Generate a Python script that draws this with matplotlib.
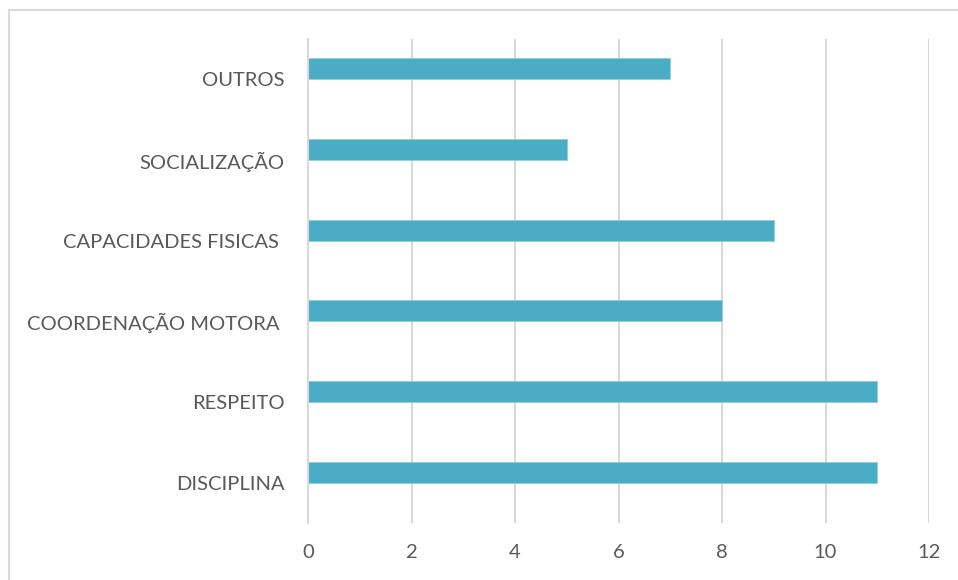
import numpy as np
import matplotlib.pyplot as plt
from matplotlib.lines import Line2D

categories = ['DISCIPLINA', 'RESPEITO', 'COORDENAÇÃO MOTORA ', 'CAPACIDADES FISICAS ',
              'SOCIALIZAÇÃO', 'OUTROS']
values = [11, 11, 8, 9, 5, 7]
xticks = [0, 2, 4, 6, 8, 10, 12]

bar_color = '#4BACC6'
grid_color = '#D9D9D9'
text_color = '#595959'

plt.rcParams['font.family'] = ['Lato', 'DejaVu Sans']

W, H = 958, 580
fig = plt.figure(figsize=(W / 100, H / 100), dpi=100)
ax = fig.add_axes([308 / W, 1 - 523 / H, (929 - 308) / W, (523 - 39) / H])

pos = np.arange(len(categories))
# bars sit slightly above the category centre, as in the original
ax.barh(pos + 0.13, values, height=0.26, color=bar_color, edgecolor='#8FD0E0',
        linewidth=0.6, zorder=3)

ax.set_xlim(0, 12)
ax.set_ylim(-0.5, len(categories) - 0.5)
ax.set_xticks(xticks)
ax.set_xticklabels([str(t) for t in xticks])
ax.set_yticks(pos)
ax.set_yticklabels(categories)

ax.grid(axis='x', color=grid_color, linewidth=1.5, zorder=0)
ax.set_axisbelow(True)
for side in ['top', 'right', 'bottom']:
    ax.spines[side].set_visible(False)
ax.spines['left'].set_color(grid_color)
ax.spines['left'].set_linewidth(1.5)
ax.spines['left'].set_zorder(4)

ax.tick_params(axis='both', length=0, colors=text_color, labelsize=14.5)
ax.tick_params(axis='y', pad=17)
ax.tick_params(axis='x', pad=15)

# outer chart frame
fig.add_artist(Line2D([9 / W, 1], [1 - 9.5 / H, 1 - 9.5 / H], color=grid_color, lw=1.5))
fig.add_artist(Line2D([9 / W, 9 / W], [0, 1 - 9.5 / H], color=grid_color, lw=1.5))

fig.savefig('out.png', dpi=100)
